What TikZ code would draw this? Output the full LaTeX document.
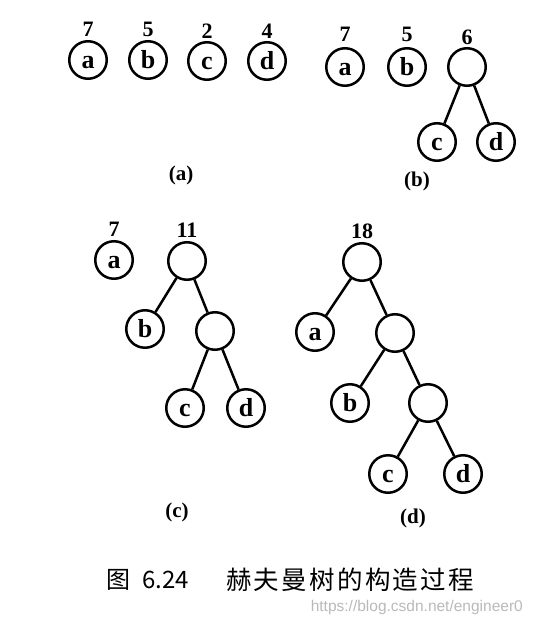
\documentclass[tikz,border=0pt]{standalone}
\usepackage{fontspec}
\setmainfont{Liberation Serif}
\newfontfamily\cjk{Noto Sans CJK SC}
\newfontfamily\wmfont{Liberation Sans}
\begin{document}
\begin{tikzpicture}[x=1pt,y=-1pt,
  nd/.style={circle,draw,line width=2.5pt,minimum size=37.5pt,inner sep=0pt,text height=17pt,text depth=0pt,font=\fontsize{26}{26}\selectfont\bfseries},
  wt/.style={anchor=base,inner sep=0pt,font=\fontsize{22}{22}\selectfont\bfseries},
  sublbl/.style={inner sep=0pt,font=\fontsize{21}{21}\selectfont\bfseries},
  lnk/.style={line width=2.5pt}]
\useasboundingbox (0,0) rectangle (533,626);
% (a)
\node[nd] (a1) at (88,60) {a};
\node[nd] (b1) at (148,60) {b};
\node[nd] (c1) at (207,61) {c};
\node[nd] (d1) at (267,61) {d};
\node[wt] (w1) at (88,37) {7};
\node[wt] (w2) at (148,37) {5};
\node[wt] (w3) at (207,38) {2};
\node[wt] (w4) at (267,38) {4};
\node[sublbl] (la) at (181,175) {(a)};
% (b)
\node[nd] (a2) at (345,67) {a};
\node[nd] (b2) at (407,67) {b};
\node[nd] (r2) at (467,67) {};
\node[nd] (c2) at (437,142) {c};
\node[nd] (d2) at (496,142) {d};
\node[wt] (w5) at (345,42) {7};
\node[wt] (w6) at (407,42) {5};
\node[wt] (w7) at (467,45) {6};
\draw[lnk] (r2) -- (c2);
\draw[lnk] (r2) -- (d2);
\node[sublbl] (lb) at (417,181) {(b)};
% (c)
\node[nd] (a3) at (114,260) {a};
\node[nd] (r3) at (187,261) {};
\node[nd] (b3) at (145,329) {b};
\node[nd] (i3) at (215,331) {};
\node[nd] (c3) at (185,408) {c};
\node[nd] (d3) at (246,408) {d};
\node[wt] (w8) at (114,236) {7};
\node[wt] (w9) at (187,237) {11};
\draw[lnk] (r3) -- (b3);
\draw[lnk] (r3) -- (i3);
\draw[lnk] (i3) -- (c3);
\draw[lnk] (i3) -- (d3);
\node[sublbl] (lc) at (177,512) {(c)};
% (d)
\node[nd] (r4) at (362,262) {};
\node[nd] (a4) at (315,332) {a};
\node[nd] (i4) at (395,333) {};
\node[nd] (b4) at (350,403) {b};
\node[nd] (j4) at (428,403) {};
\node[nd] (c4) at (388,474) {c};
\node[nd] (d4) at (463,474) {d};
\node[wt] (w10) at (362,238) {18};
\draw[lnk] (r4) -- (a4);
\draw[lnk] (r4) -- (i4);
\draw[lnk] (i4) -- (b4);
\draw[lnk] (i4) -- (j4);
\draw[lnk] (j4) -- (c4);
\draw[lnk] (j4) -- (d4);
\node[sublbl] (ld) at (413,518) {(d)};
% caption
\node[inner sep=0pt,anchor=west,font=\cjk\fontsize{24}{24}\selectfont] (tf) at (106,580) {图};
\node[inner sep=0pt,anchor=west,font=\cjk\fontsize{24}{24}\selectfont] (tn) at (142,580) {6.24};
\node[inner sep=0pt,anchor=west,font=\cjk\fontsize{25.5}{25.5}\selectfont,text width=260pt] (tt) at (226,580) {赫\hspace{2.3pt}夫\hspace{2.3pt}曼\hspace{2.3pt}树\hspace{2.3pt}的\hspace{2.3pt}构\hspace{2.3pt}造\hspace{2.3pt}过\hspace{2.3pt}程};
\node[inner sep=0pt,anchor=east,text=gray!55,font=\wmfont\fontsize{15.5}{15.5}\selectfont] (wm) at (523,607) {https://blog.csdn.net/engineer0};
\end{tikzpicture}
\end{document}
